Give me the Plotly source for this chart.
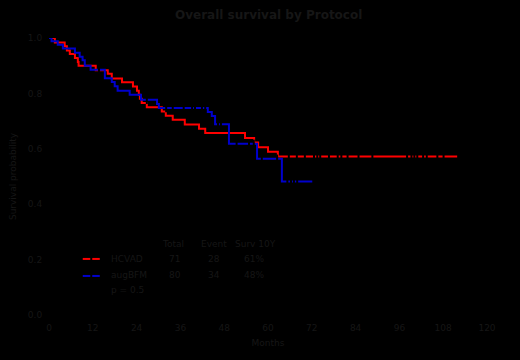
import bisect
import plotly.graph_objects as go

# ---- data ----
red_name = "HCVAD"
blue_name = "augBFM"
red_time = [0, 1.6, 4.3, 4.9, 5.7, 7.1, 7.9, 8.1, 12.8, 16.1, 17.2, 20.0, 23.0, 24.1, 24.6,
            24.9, 25.4, 26.8, 30.9, 32.0, 33.9, 37.2, 41.1, 42.8, 53.7, 56.2, 57.3, 60.0, 62.7]
red_surv = [1.0, 0.984, 0.970, 0.955, 0.942, 0.928, 0.913, 0.900, 0.884, 0.871, 0.854, 0.840,
            0.825, 0.810, 0.795, 0.781, 0.765, 0.750, 0.735, 0.719, 0.705, 0.688, 0.672, 0.657,
            0.639, 0.623, 0.606, 0.589, 0.572]
red_end = 112.1
red_censor = [65.7, 67.9, 70.1, 72.6, 73.5, 74.3, 76.7, 79.1, 80.1, 81.8, 84.8, 88.6, 98.1,
              99.3, 100.1, 100.9, 102.5, 103.5, 106.4, 108.1, 112.1]

blue_time = [0, 0.7, 2.4, 3.8, 7.1, 8.4, 9.2, 9.8, 11.4, 15.3, 17.2, 18.0, 18.8, 22.1, 25.2,
             29.6, 30.1, 43.5, 44.6, 45.5, 49.3, 57.0, 63.8]
blue_surv = [1.0, 0.988, 0.976, 0.962, 0.947, 0.932, 0.920, 0.900, 0.885, 0.855, 0.841, 0.826,
             0.810, 0.795, 0.777, 0.762, 0.747, 0.733, 0.718, 0.689, 0.618, 0.564, 0.482]
blue_end = 72.4
blue_censor = [13.7, 26.8, 32.1, 33.9, 36.9, 39.2, 40.0, 41.9, 42.8, 46.3, 47.1, 51.4, 54.8,
               56.1, 58.3, 62.5, 65.3, 66.3, 67.1, 68.0, 72.4]

x_ticks = [0, 12, 24, 36, 48, 60, 72, 84, 96, 108, 120]
y_ticks = [0.0, 0.2, 0.4, 0.6, 0.8, 1.0]

table_header = ["Total", "Event", "Surv 10Y"]
red_row = ["71", "28", "61%"]
blue_row = ["80", "34", "48%"]
p_text = "p = 0.5"

title_text = "Overall survival by Protocol"
x_title = "Months"
y_title = "Survival probability"

TXT = "#161616"
RED = "#ff0000"
BLUE = "#0000cc"
FONT = "DejaVu Sans, Verdana, sans-serif"


def surv_at(times, surv, t):
    i = bisect.bisect_right(times, t) - 1
    return surv[max(i, 0)]


fig = go.Figure()
for times, surv, end, col, name in [
    (red_time, red_surv, red_end, RED, red_name),
    (blue_time, blue_surv, blue_end, BLUE, blue_name),
]:
    fig.add_trace(go.Scatter(
        x=times + [end], y=surv + [surv[-1]], mode="lines",
        line=dict(color=col, width=2, shape="hv"), name=name,
        showlegend=False, cliponaxis=False))
for times, surv, cens in [(red_time, red_surv, red_censor), (blue_time, blue_surv, blue_censor)]:
    fig.add_trace(go.Scatter(
        x=cens, y=[surv_at(times, surv, t) for t in cens], mode="markers",
        marker=dict(symbol="line-ns", size=6, color="#000000",
                    line=dict(color="#000000", width=2)),
        showlegend=False, cliponaxis=False, hoverinfo="skip"))


# legend table (paper coordinates)
def px(x):
    return (x - 49.3) / 437.4


def py(y):
    return (315 - y) / 276.7


ann = []
for txt, xc in zip(table_header, [173.5, 214, 255.5]):
    ann.append(dict(text=txt, x=px(xc), y=py(244)))
for row, yy in [(red_row, 259), (blue_row, 275)]:
    for txt, xc in zip(row, [175, 214, 254]):
        ann.append(dict(text=txt, x=px(xc), y=py(yy)))
annotations = [dict(a, xref="paper", yref="paper", showarrow=False, xanchor="center",
                    yanchor="middle", font=dict(size=9, color=TXT, family=FONT)) for a in ann]
for txt, yy in [(red_name, 259), (blue_name, 275), (p_text, 290)]:
    annotations.append(dict(text=txt, x=px(109), y=py(yy), xref="paper", yref="paper",
                            showarrow=False, xanchor="left", yanchor="middle",
                            font=dict(size=9, color=TXT, family=FONT)))
annotations.append(dict(text="<b>" + title_text + "</b>", x=0.5, y=py(15), xref="paper",
                        yref="paper", showarrow=False, xanchor="center", yanchor="middle",
                        font=dict(size=12, color=TXT, family=FONT)))

shapes = []
for col, yy in [(RED, 259), (BLUE, 276)]:
    shapes.append(dict(type="line", xref="paper", yref="paper", x0=px(83), x1=px(100),
                       y0=py(yy), y1=py(yy), line=dict(color=col, width=2)))
    shapes.append(dict(type="line", xref="paper", yref="paper", x0=px(91.5), x1=px(91.5),
                       y0=py(yy - 3), y1=py(yy + 3), line=dict(color="#000000", width=2)))

fig.update_layout(
    width=520, height=360,
    paper_bgcolor="#000000", plot_bgcolor="#000000",
    margin=dict(l=49.3, r=33.3, t=38.3, b=45),
    font=dict(family=FONT, size=9, color=TXT),
    annotations=annotations, shapes=shapes, showlegend=False,
    xaxis=dict(range=[0, 120], tickvals=x_ticks, showgrid=False, zeroline=False,
               showline=True, linecolor="#000000", ticks="outside", ticklen=4,
               tickcolor="#000000", tickfont=dict(size=9, color=TXT),
               title=dict(text=x_title, font=dict(size=9, color=TXT), standoff=7)),
    yaxis=dict(range=[0, 1], tickvals=y_ticks, tickformat=".1f", showgrid=False,
               zeroline=False, showline=True, linecolor="#000000", ticks="outside",
               ticklen=4, tickcolor="#000000", tickfont=dict(size=9, color=TXT),
               title=dict(text=y_title, font=dict(size=9, color=TXT), standoff=9)),
)

fig.write_html(
    "out.html",
    config={"displayModeBar": False},
    post_script="document.body.style.margin='0';document.body.style.background='#000';"
                "document.body.style.overflow='hidden';",
)
